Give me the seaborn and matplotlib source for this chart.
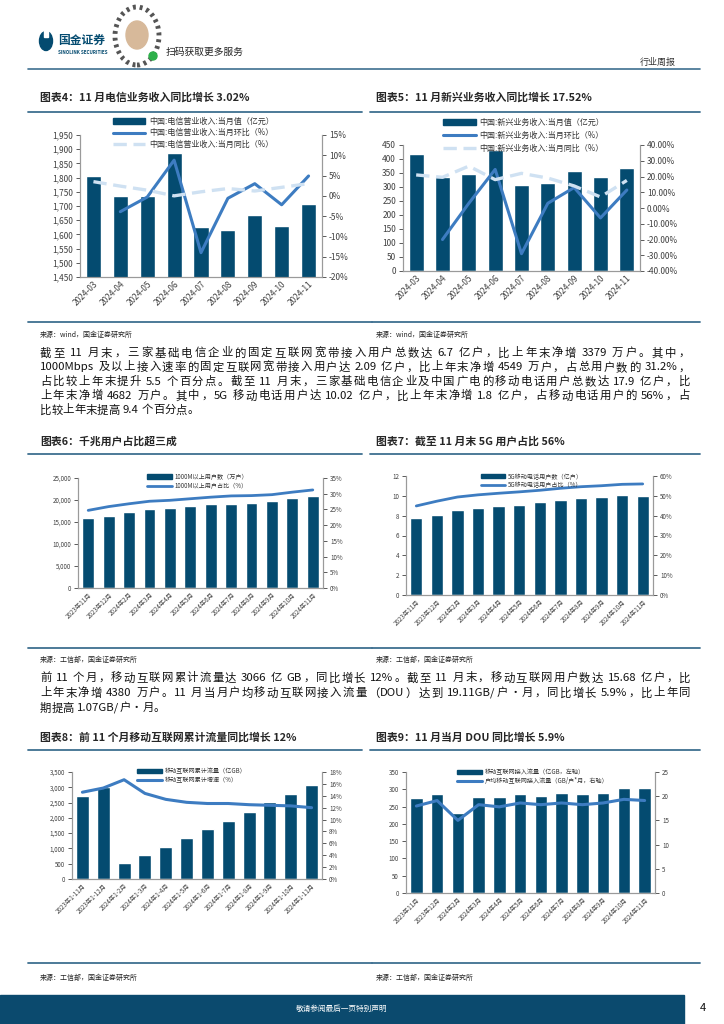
import re
import numpy as np
import pandas as pd
import matplotlib
matplotlib.use("Agg")
import matplotlib.pyplot as plt
import matplotlib.ticker as mticker
from matplotlib.patches import Patch, Rectangle, Ellipse
from matplotlib.lines import Line2D
import seaborn as sns

W, H = 724, 1024
NAVY = "#044b70"
BLUE = "#3d7cc1"
LIGHT = "#cfe1f2"
RULE = "#3e6f90"
TICK = "#404040"
SPINE = "#9a9a9a"

# 图表4 电信业务收入
c4_months = ["2024-03", "2024-04", "2024-05", "2024-06", "2024-07",
             "2024-08", "2024-09", "2024-10", "2024-11"]
c4_value = [1805, 1735, 1735, 1886, 1626, 1615, 1668, 1629, 1706]
c4_mom = [np.nan, -3.9, -0.3, 8.8, -14.0, -0.6, 3.0, -2.2, 4.9]
c4_yoy = [3.5, 2.4, 1.4, 0.0, 1.0, 1.8, 1.2, 2.1, 3.02]
c4_labels = ["中国:电信营业收入:当月值（亿元）", "中国:电信营业收入:当月环比（%）",
             "中国:电信营业收入:当月同比（%）"]

# 图表5 新兴业务收入
c5_months = c4_months
c5_value = [418, 336, 346, 432, 307, 313, 357, 334, 369]
c5_mom = [np.nan, -20.0, 3.0, 24.5, -29.0, 3.0, 13.0, -6.3, 11.4]
c5_yoy = [21.0, 19.5, 26.6, 18.0, 22.0, 19.0, 14.0, 7.0, 17.52]
c5_labels = ["中国:新兴业务收入:当月值（亿元）", "中国:新兴业务收入:当月环比（%）",
             "中国:新兴业务收入:当月同比（%）"]

# 图表6/7/9 共用月份
user_months = ["2023年11月", "2023年12月", "2024年2月", "2024年3月", "2024年4月", "2024年5月",
               "2024年6月", "2024年7月", "2024年8月", "2024年9月", "2024年10月", "2024年11月"]
c6_users = [15830, 16440, 17270, 17950, 18110, 18560, 19020, 19170, 19390, 19770, 20380, 20900]
c6_share = [24.7, 25.9, 26.8, 27.6, 27.9, 28.4, 28.9, 29.3, 29.4, 29.7, 30.5, 31.2]
c6_labels = ["1000M以上用户数（万户）", "1000M以上用户占比（%）"]

c7_users = [7.72, 8.02, 8.56, 8.76, 8.93, 9.03, 9.33, 9.60, 9.77, 9.87, 10.07, 10.02]
c7_share = [44.9, 47.3, 49.4, 50.5, 51.3, 52.0, 52.8, 53.8, 54.6, 55.1, 55.8, 56.0]
c7_labels = ["5G移动电话用户数（亿户）", "5G移动电话用户占比（%）"]

# 图表8 累计流量
c8_months = ["2023年1-11月", "2023年1-12月", "2024年1-2月", "2024年1-3月", "2024年1-4月",
             "2024年1-5月", "2024年1-6月", "2024年1-7月", "2024年1-8月", "2024年1-9月",
             "2024年1-10月", "2024年1-11月"]
c8_flow = [2728, 3015, 511, 783, 1054, 1348, 1641, 1913, 2207, 2511, 2793, 3066]
c8_growth = [14.6, 15.3, 16.7, 14.4, 13.4, 12.9, 12.7, 12.7, 12.5, 12.4, 12.3, 12.0]
c8_labels = ["移动互联网累计流量（亿GB）", "移动互联网累计增速（%）"]

# 图表9 DOU
c9_flow = [275, 287, 231, 277, 277, 287, 282, 290, 287, 290, 303, 303]
c9_dou = [17.97, 19.1, 15.0, 18.25, 17.8, 18.6, 18.25, 18.6, 18.25, 18.6, 19.35, 19.11]
c9_labels = ["移动互联网接入流量（亿GB，左轴）", "户均移动互联网接入流量（GB/户*月，右轴）"]

TITLES = ["图表4：11 月电信业务收入同比增长 3.02%", "图表5：11 月新兴业务收入同比增长 17.52%",
          "图表6：千兆用户占比超三成", "图表7：截至 11 月末 5G 用户占比 56%",
          "图表8：前 11 个月移动互联网累计流量同比增长 12%", "图表9：11 月当月 DOU 同比增长 5.9%"]

PARA1 = ["截至 11 月末，三家基础电信企业的固定互联网宽带接入用户总数达 6.7 亿户，比上年末净增 3379 万户。其中，",
         "1000Mbps 及以上接入速率的固定互联网宽带接入用户达 2.09 亿户，比上年末净增 4549 万户，占总用户数的 31.2%，",
         "占比较上年末提升 5.5 个百分点。截至 11 月末，三家基础电信企业及中国广电的移动电话用户总数达 17.9 亿户，比",
         "上年末净增 4682 万户。其中，5G 移动电话用户达 10.02 亿户，比上年末净增 1.8 亿户，占移动电话用户的 56%，占",
         "比较上年末提高 9.4 个百分点。"]
PARA2 = ["前 11 个月，移动互联网累计流量达 3066 亿 GB，同比增长 12%。截至 11 月末，移动互联网用户数达 15.68 亿户，比",
         "上年末净增 4380 万户。11 月当月户均移动互联网接入流量（DOU）达到 19.11GB/户·月，同比增长 5.9%，比上年同",
         "期提高 1.07GB/户·月。"]

sns.set_theme(style="white")
plt.rcParams["font.family"] = ["Noto Sans CJK SC", "DejaVu Sans"]
plt.rcParams["axes.unicode_minus"] = False

fig = plt.figure(figsize=(W / 100, H / 100), dpi=100)
renderer = fig.canvas.get_renderer()


def add_ax(x0, y0, x1, y1):
    return fig.add_axes([x0 / W, 1 - y1 / H, (x1 - x0) / W, (y1 - y0) / H])


def ftext(x, y, s, **kw):
    return fig.text(x / W, 1 - y / H, s, **kw)


def hline(x0, x1, y, color=RULE, lw=1.3):
    fig.add_artist(Line2D([x0 / W, x1 / W], [1 - y / H] * 2, color=color, lw=lw))


def justify(x0, x1, y, s, fontsize=8.2, last=False):
    # 两端对齐：英文数字成段，汉字逐字，多余宽度均分到各段之间（空格并入前一段）
    parts, widths = [], []
    space = 0.28 * fontsize * 100 / 72
    for tok in re.findall(r"[A-Za-z0-9.%/]+| |.", s):
        if tok == " ":
            if widths:
                widths[-1] += space
            continue
        t = ftext(0, y, tok, fontsize=fontsize, color="#111111", va="center")
        parts.append(t)
        widths.append(t.get_window_extent(renderer).width)
    gap = 0 if last else (x1 - x0 - sum(widths)) / (len(parts) - 1)
    x = x0
    for t, w in zip(parts, widths):
        t.set_x(x / W)
        x += w + gap


def combo(rect, cats, bars, width, llim, lticks, lfmt, rlim, rticks, rfmt,
          series, labels, leg_xy, fs_tick, fs_leg, leg_space=0.15):
    ax = add_ax(*rect)
    df = pd.DataFrame({"cat": cats, "val": bars})
    sns.barplot(data=df, x="cat", y="val", color=NAVY, width=width, saturation=1, ax=ax)
    ax2 = ax.twinx()
    handles = [Patch(color=NAVY, label=labels[0])]
    for (vals, color, ls, lw), lab in zip(series, labels[1:]):
        vals = np.asarray(vals, dtype=float)
        ok = ~np.isnan(vals)
        sns.lineplot(x=np.arange(len(cats))[ok], y=vals[ok], ax=ax2, color=color,
                     linestyle=ls, lw=lw)
        handles.append(Line2D([], [], color=color, linestyle=ls, lw=lw, label=lab))
    ax.set_xlim(-0.5, len(cats) - 0.5)
    ax.set_ylim(*llim)
    ax.set_yticks(lticks)
    ax.yaxis.set_major_formatter(lfmt)
    ax2.set_ylim(*rlim)
    ax2.set_yticks(rticks)
    ax2.yaxis.set_major_formatter(rfmt)
    for a in (ax, ax2):
        a.set_xlabel("")
        a.set_ylabel("")
        a.spines["top"].set_visible(False)
        for s in ("left", "right", "bottom"):
            a.spines[s].set_color(SPINE)
            a.spines[s].set_linewidth(0.8)
        a.tick_params(axis="y", labelsize=fs_tick, colors=TICK, length=3, width=0.6,
                      direction="out", pad=2)
    ax.tick_params(axis="x", labelsize=fs_tick, colors=TICK, length=0, pad=2,
                   labelrotation=45)
    for lbl in ax.get_xticklabels():
        lbl.set_ha("right")
        lbl.set_rotation_mode("anchor")
    ax2.legend(handles=handles, loc="upper center", bbox_to_anchor=leg_xy, frameon=False,
               fontsize=fs_leg, handlelength=4, handleheight=0.7, labelspacing=leg_space,
               borderaxespad=0, handletextpad=0.5, labelcolor="#333333")
    return ax, ax2


# 页眉
fig.add_artist(Ellipse((46 / W, 1 - 41 / H), 13 / W, 19 / H, color=NAVY))
fig.add_artist(Rectangle((44 / W, 1 - 37 / H), 4 / W, 7 / H, color="white"))
ftext(58, 40, "国金证券", fontsize=8.5, fontweight="bold", color=NAVY, va="center")
ftext(58, 52, "SINOLINK SECURITIES", fontsize=3.3, fontweight="bold", color=NAVY, va="center")
fig.add_artist(Ellipse((137 / W, 1 - 36 / H), 44 / W, 58 / H, fill=False, ec="#555555", lw=3.5,
                       linestyle=(0, (0.6, 0.8))))
fig.add_artist(Ellipse((137 / W, 1 - 35 / H), 22 / W, 28 / H, color="#d7b99a"))
fig.add_artist(Ellipse((153 / W, 1 - 56 / H), 8 / W, 8 / H, color="#2db04a"))
ftext(166, 52, "扫码获取更多服务", fontsize=7, color="#222222", va="center")
ftext(640, 62, "行业周报", fontsize=6.5, color="#333333", va="center")
hline(28, 700, 69, lw=1.2)

# 标题与分隔线
for i, (x, y) in enumerate([(40, 97), (376, 97), (40, 441), (376, 441), (40, 737), (376, 737)]):
    ftext(x, y, TITLES[i], fontsize=7.8, fontweight="bold", va="center")
for y in (112, 454, 750):
    hline(28, 362, y)
    hline(370, 700, y)
for y in (322, 648, 963):
    hline(28, 372, y)
    hline(372, 700, y)

for x, y, s in [(40, 335, "来源：wind，国金证券研究所"), (376, 335, "来源：wind，国金证券研究所"),
                (40, 660, "来源：工信部，国金证券研究所"), (376, 660, "来源：工信部，国金证券研究所"),
                (40, 978, "来源：工信部，国金证券研究所"), (376, 978, "来源：工信部，国金证券研究所")]:
    ftext(x, y, s, fontsize=5, color="#222222", va="center")

for i, line in enumerate(PARA1):
    justify(40, 690, 353 + i * 14.3, line, last=(i == len(PARA1) - 1))
for i, line in enumerate(PARA2):
    justify(40, 690, 678 + i * 15, line, last=(i == len(PARA2) - 1))

pct0 = mticker.FuncFormatter(lambda v, p: f"{v:.0f}%")
pct2 = mticker.FuncFormatter(lambda v, p: f"{v:.2f}%")
comma = mticker.FuncFormatter(lambda v, p: f"{v:,.0f}")
plain = mticker.FuncFormatter(lambda v, p: f"{v:.0f}")

combo((80, 135, 322, 277), c4_months, c4_value, 0.56,
      (1450, 1950), np.arange(1450, 1951, 50), comma,
      (-20, 15), np.arange(-20, 16, 5), pct0,
      [(c4_mom, BLUE, "-", 2.2), (c4_yoy, LIGHT, (0, (4, 2)), 2.4)],
      c4_labels, (0.47, 1.15), 6, 5.8, 0.3)

combo((403, 145, 640, 271), c5_months, c5_value, 0.57,
      (0, 450), np.arange(0, 451, 50), plain,
      (-40, 40), np.arange(-40, 41, 10), pct2,
      [(c5_mom, BLUE, "-", 2.2), (c5_yoy, LIGHT, (0, (4, 2)), 2.4)],
      c5_labels, (0.51, 1.24), 6, 5.8, 0.5)

combo((78, 478, 323, 588), user_months, c6_users, 0.58,
      (0, 25000), np.arange(0, 25001, 5000), comma,
      (0, 35), np.arange(0, 36, 5), pct0,
      [(c6_share, BLUE, "-", 2.0)],
      c6_labels, (0.49, 1.07), 4.5, 4.4)

combo((406, 476, 653, 595), user_months, c7_users, 0.6,
      (0, 12), np.arange(0, 13, 2), plain,
      (0, 60), np.arange(0, 61, 10), pct0,
      [(c7_share, BLUE, "-", 2.0)],
      c7_labels, (0.51, 1.05), 4.5, 4.4)

combo((72, 772, 322, 879), c8_months, c8_flow, 0.62,
      (0, 3500), np.arange(0, 3501, 500), comma,
      (0, 18), np.arange(0, 19, 2), pct0,
      [(c8_growth, BLUE, "-", 2.2)],
      c8_labels, (0.48, 1.07), 4.5, 4.4)

ax9, ax9r = combo((406, 772, 655, 893), user_months, c9_flow, 0.6,
                  (0, 350), np.arange(0, 351, 50), plain,
                  (0, 25), np.arange(0, 26, 5), plain,
                  [(c9_dou, BLUE, "-", 2.2)],
                  c9_labels, (0.51, 1.05), 4.5, 4.4)
ax9.set_xticks(np.arange(len(user_months) - 1) + 0.5, minor=True)
ax9.tick_params(axis="x", which="minor", length=2.5, width=0.6, direction="in", color=SPINE)

# 页脚
fig.add_artist(Rectangle((0, 0), 684 / W, 29 / H, color="#0b4a6e"))
ftext(342, 1009, "敬请参阅最后一页特别声明", fontsize=5.5, color="white", ha="center", va="center")
ftext(703, 1008, "4", fontsize=8, color="#111111", ha="center", va="center")

fig.savefig("out.png", dpi=100)
